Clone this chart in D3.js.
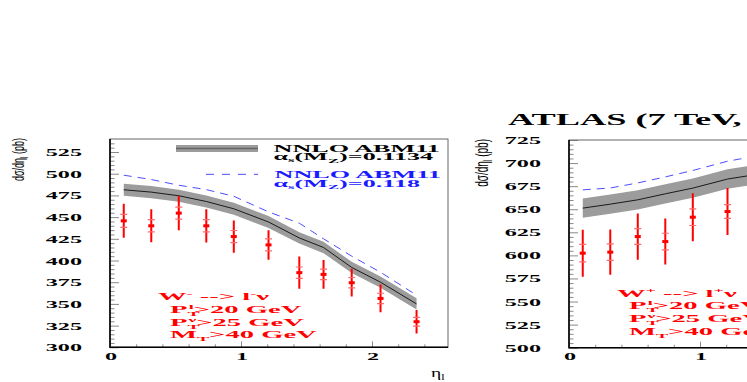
<!DOCTYPE html>
<html>
<head>
<meta charset="utf-8">
<script src="https://cdn.jsdelivr.net/npm/d3@7"></script>
<style>
  body { margin: 0; background: #fff; }
  svg { display: block; }
</style>
</head>
<body>
<script>
// bin centres in lepton pseudorapidity
const etaCenters = [0.105, 0.315, 0.525, 0.735, 0.945, 1.21, 1.445, 1.63, 1.845, 2.065, 2.34];

// W- panel
const wMinusData = [445.7, 440, 454.6, 440, 427.6, 418, 386, 384, 374.4, 356.3, 329.5];
const wMinusTot  = [19.6, 19, 19.6, 19.2, 18.6, 17, 18.5, 16.5, 16, 16, 13.5];
const wMinusStat = [7.5, 7, 7, 7, 7, 7, 6.5, 6, 6, 6, 5];
const wMinusAbm  = [481.5, 478.8, 474.6, 468, 459.6, 444.4, 426, 415, 392, 375, 350];
const wMinusBand = [7, 7, 7, 7, 7, 7, 6.5, 6.5, 6.5, 6.5, 6.5];
const wMinusAbm118 = [498.3, 493.3, 486.7, 481.7, 474, 456, 443, 425, 405, 386.5, 360];

// W+ panel (only the visible part)
const wPlusData = [602.4, 603.5, 620.4, 615, 641.4, 647.5];
const wPlusTot  = [25.5, 24.5, 25, 25, 26, 25.5];
const wPlusStat = [9.5, 9, 8.5, 9, 9, 7.5];
const wPlusAbm  = [651.2, 655.5, 660.2, 666.7, 672.9, 682.7, 688];
const wPlusBand = [10.5, 10.5, 10.5, 10.5, 10.5, 10.5, 10.5];
const wPlusAbm118 = [671, 673, 678.5, 685, 692, 702, 708];

const xTickLabels = [0, 1, 2];

const SX = 2.2;          // ROOT canvas is stretched horizontally
const SERIF = '"Liberation Serif", "Times New Roman", serif';
const SANS = '"Liberation Sans", Arial, sans-serif';
const RED = '#ff0000', BLUE = '#4d4dff', GREY = '#9c9c9c';

const svg = d3.select('body').append('svg')
  .attr('width', 747).attr('height', 382);

// stretched text helper; parts = [[string, {size, dy, dx}], ...]
function sText(x, y, parts, opts = {}) {
  const g = svg.append('g').attr('transform', `translate(${x},${y}) scale(${opts.sx || SX},1)`);
  const t = g.append('text')
    .attr('font-family', opts.family || SERIF)
    .attr('font-weight', opts.weight || 'bold')
    .attr('font-size', opts.size || 11)
    .attr('fill', opts.color || '#000')
    .attr('text-anchor', opts.anchor || 'start');
  parts.forEach(p => {
    const s = t.append('tspan').text(p[0]);
    const o = p[1] || {};
    if (o.size) s.attr('font-size', o.size);
    if (o.dy) s.attr('dy', o.dy);
    if (o.dx) s.attr('dx', o.dx);
  });
  return t;
}

function drawPanel(p) {
  const x = d3.scaleLinear().domain([0, 2.58]).range([p.x0, p.x1]);
  const y = d3.scaleLinear().domain(p.yDomain).range([p.y1, p.y0]);
  const g = svg.append('g');

  // minor / major ticks pointing inward
  const yMajor = d3.range(p.yDomain[0], p.yTop + 1, 25);
  const yMinor = d3.range(p.yDomain[0], p.yDomain[1], 5).filter(v => v % 25 !== 0);
  const addAxis = (axis, tr) => {
    const a = g.append('g').attr('transform', tr).call(axis);
    a.select('.domain').remove();
    a.selectAll('line').attr('stroke', '#8a8a8a');
  };
  addAxis(d3.axisLeft(y).tickValues(yMajor).tickSize(-9).tickFormat(''), `translate(${p.x0},0)`);
  addAxis(d3.axisLeft(y).tickValues(yMinor).tickSize(-4.5).tickFormat(''), `translate(${p.x0},0)`);
  addAxis(d3.axisBottom(x).tickValues(xTickLabels).tickSize(-6).tickFormat(''), `translate(0,${p.y1})`);
  addAxis(d3.axisBottom(x).tickValues(d3.range(0.2, 2.58, 0.2).filter(v => Math.abs(v - Math.round(v)) > 0.01))
    .tickSize(-3).tickFormat(''), `translate(0,${p.y1})`);

  // frame
  g.append('rect').attr('x', p.x0).attr('y', p.y0)
    .attr('width', p.x1 - p.x0).attr('height', p.y1 - p.y0)
    .attr('fill', 'none').attr('stroke', '#666').attr('stroke-width', 1);
  g.append('path').attr('d', `M${p.x0},${p.y0}V${p.y1}H${p.x1}`)
    .attr('fill', 'none').attr('stroke', '#000').attr('stroke-width', 1.6);

  // tick labels
  yMajor.forEach(v => sText(p.labelX, y(v) + 4, [[String(v)]], { anchor: 'end' }));
  xTickLabels.forEach(v => sText(x(v) + 1, p.y1 + 12.5, [[String(v)]], { anchor: 'middle' }));

  // theory band + central line
  const eta = etaCenters.slice(0, p.abm.length);
  const band = d3.area()
    .x((d, i) => x(eta[i]))
    .y0((d, i) => y(d - p.band[i]))
    .y1((d, i) => y(d + p.band[i]));
  const line = d3.line().x((d, i) => x(eta[i])).y(d => y(d));
  const clip = 'clip-' + p.name;
  svg.append('clipPath').attr('id', clip).append('rect')
    .attr('x', p.x0).attr('y', p.y0).attr('width', p.x1 - p.x0).attr('height', p.y1 - p.y0);
  const plot = g.append('g').attr('clip-path', `url(#${clip})`);
  plot.append('path').datum(p.abm).attr('d', band).attr('fill', GREY);
  plot.append('path').datum(p.abm).attr('d', line)
    .attr('fill', 'none').attr('stroke', '#1a1a1a').attr('stroke-width', 1);
  plot.append('path').datum(p.abm118).attr('d', line)
    .attr('fill', 'none').attr('stroke', BLUE).attr('stroke-width', 1)
    .attr('stroke-dasharray', '8,6');

  // data points
  const pts = plot.selectAll('g.pt').data(p.data).enter().append('g')
    .attr('transform', (d, i) => `translate(${x(etaCenters[i])},0)`);
  pts.append('line')
    .attr('y1', (d, i) => y(d + p.tot[i])).attr('y2', (d, i) => y(d - p.tot[i]))
    .attr('stroke', RED).attr('stroke-width', 2);
  [-1, 1].forEach(s => pts.append('line')
    .attr('x1', -3.5).attr('x2', 3.5)
    .attr('y1', (d, i) => y(d + s * p.stat[i])).attr('y2', (d, i) => y(d + s * p.stat[i]))
    .attr('stroke', '#ff6a6a').attr('stroke-width', 1.2));
  pts.append('rect').attr('x', -3).attr('width', 6)
    .attr('y', d => y(d) - 1.5).attr('height', 3).attr('fill', RED);

  // cuts text
  const tx = p.textX, ty = p.textY, rs = { color: RED, sx: 2.6 };
  sText(tx, ty, [['W'], [p.sign, { size: 7, dy: -4 }], [' --> l', { dy: 4 }], [p.sign, { size: 7, dy: -4 }], ['ν', { dy: 4 }]], rs);
  sText(tx + 12, ty + 12.8, [['P'], ['T', { size: 7, dy: 3 }], ['l', { size: 7, dx: -4.2, dy: -7 }], ['>20 GeV', { dy: 4 }]], rs);
  sText(tx + 12, ty + 25.6, [['P'], ['T', { size: 7, dy: 3 }], ['ν', { size: 7, dx: -4.4, dy: -7 }], ['>25 GeV', { dy: 4 }]], rs);
  sText(tx + 12, ty + 38.4, [['M'], ['T', { size: 7, dy: 3 }], ['>40 GeV', { dy: -3 }]], rs);

  // y axis title
  const yl = svg.append('g').attr('transform', `translate(${p.yTitleX},${p.y0 - 1}) rotate(-90) scale(1,1.8)`);
  const yt = yl.append('text').attr('font-family', SANS).attr('font-size', p.yTitleSize)
    .attr('text-anchor', 'end').attr('fill', '#000');
  yt.append('tspan').text('dσ/dη');
  yt.append('tspan').text('l').attr('font-size', p.yTitleSize * 0.7).attr('dy', 2);
  yt.append('tspan').text(' (pb)').attr('dy', -2);
}

drawPanel({
  name: 'wm', x0: 110, x1: 448, y0: 139, y1: 347.3, yDomain: [300, 540], yTop: 525,
  labelX: 82, data: wMinusData, tot: wMinusTot, stat: wMinusStat,
  abm: wMinusAbm, band: wMinusBand, abm118: wMinusAbm118,
  textX: 158, textY: 300, sign: '-', yTitleX: 24, yTitleSize: 9
});

drawPanel({
  name: 'wp', x0: 569, x1: 907, y0: 140, y1: 347.7, yDomain: [500, 725], yTop: 725,
  labelX: 541, data: wPlusData, tot: wPlusTot, stat: wPlusStat,
  abm: wPlusAbm, band: wPlusBand, abm118: wPlusAbm118,
  textX: 617, textY: 296.5, sign: '+', yTitleX: 488, yTitleSize: 10
});

// legend (left panel)
svg.append('rect').attr('x', 176).attr('y', 145).attr('width', 82).attr('height', 7).attr('fill', GREY);
svg.append('line').attr('x1', 176).attr('x2', 258).attr('y1', 148.5).attr('y2', 148.5)
  .attr('stroke', '#666').attr('stroke-width', 1.5);
svg.append('line').attr('x1', 206).attr('x2', 258).attr('y1', 174.3).attr('y2', 174.3)
  .attr('stroke', BLUE).attr('stroke-width', 1).attr('stroke-dasharray', '8,8');

const LS = 2.38;
sText(273.5, 151.7, [['NNLO ABM11']], { sx: LS });
sText(273.5, 160, [['α'], ['s', { size: 7, dy: 2 }], ['(M', { dy: -2 }], ['Z', { size: 7, dy: 2.5 }], [')=0.1134', { dy: -2.5 }]], { sx: LS });
sText(274.5, 178.3, [['NNLO ABM11']], { color: '#1a1aff', sx: LS });
sText(273.5, 186.7, [['α'], ['s', { size: 7, dy: 2 }], ['(M', { dy: -2 }], ['Z', { size: 7, dy: 2.5 }], [')=0.118', { dy: -2.5 }]], { color: '#1a1aff', sx: LS });

// x axis title
sText(431, 377, [['η'], ['l', { size: 8, dy: 3 }]], { size: 13, sx: 1.5, weight: 'normal' });

// header above the right panel
sText(508, 125, [['ATLAS (7 TeV,']], { size: 16, sx: 2.27 });
</script>
</body>
</html>
